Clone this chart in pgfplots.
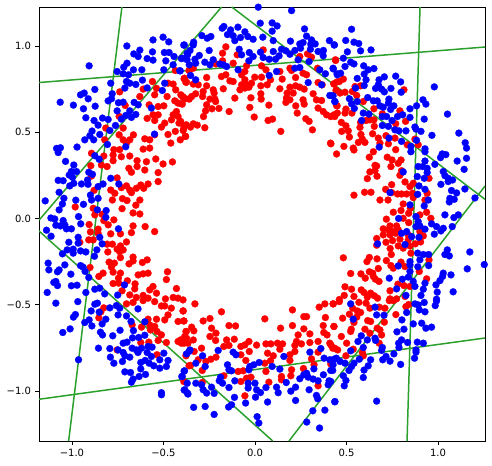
\documentclass[border=0pt]{standalone}
\usepackage{fontspec}
\setmainfont{DejaVu Sans}
\usepackage{pgfplots}
\pgfplotsset{compat=1.18}
\definecolor{lgreen}{RGB}{44,160,44}
\begin{document}
\begin{tikzpicture}
\path[use as bounding box] (-39bp,-25bp) rectangle (453bp,441bp);
\begin{axis}[
  at={(0,0)},anchor=south west,
  scale only axis,width=446bp,height=434bp,
  xmin=-1.18,xmax=1.257,ymin=-1.29,ymax=1.226,
  xtick={-1,-0.5,0,0.5,1},xticklabels={−1.0,−0.5,0.0,0.5,1.0},
  ytick={-1,-0.5,0,0.5,1},yticklabels={−1.0,−0.5,0.0,0.5,1.0},
  tick align=outside,xtick pos=bottom,ytick pos=left,
  tick style={black,line width=0.8bp},
  major tick length=3.5bp,
  axis line style={line width=0.8bp},
  tick label style={font=\fontsize{10bp}{12bp}\selectfont},
  xticklabel style={yshift=-1bp},
  yticklabel style={xshift=-1bp},
  clip=true,
]
% red class
\addplot[red,only marks,mark=*,mark size=3.5bp,mark options={solid,draw=red,fill=red,line width=0.2bp}] coordinates {
(-0.739,0.734)(-0.560,0.794)(-0.611,0.750)(-0.538,0.754)(-0.629,0.707)(-0.548,0.717)(-0.480,0.707)(-0.475,0.784)(-0.447,0.779)(-0.387,0.810)(-0.378,0.790)(-0.433,0.746)(-0.578,0.659)(-0.529,0.649)(-0.498,0.653)(-0.709,0.655)(-0.742,0.592)(-0.420,0.669)(-0.438,0.682)(-0.396,0.707)(-0.378,0.694)(-0.402,0.665)(-0.429,0.620)(-0.447,0.601)(-0.420,0.591)(-0.456,0.572)(-0.589,0.580)(-0.557,0.601)(-0.529,0.601)(-0.548,0.568)(-0.493,0.553)(-0.511,0.530)(-0.415,0.553)(-0.389,0.524)(-0.375,0.543)(-0.475,0.487)(-0.435,0.505)(-0.380,0.476)(-0.460,0.437)(-0.815,0.524)(-0.720,0.524)(-0.742,0.485)(-0.821,0.456)(-0.664,0.485)(-0.684,0.456)(-0.720,0.456)(-0.602,0.462)(-0.575,0.456)(-0.548,0.485)(-0.702,0.437)(-0.575,0.408)(-0.611,0.402)(-0.771,0.399)(-0.739,0.399)(-0.435,0.858)(-0.360,0.858)
(-0.159,0.995)(-0.177,0.958)(-0.097,0.949)(0.045,0.977)(-0.177,0.914)(-0.213,0.896)(-0.119,0.900)(-0.046,0.885)(-0.055,0.852)(-0.073,0.833)(0.036,0.885)(0.060,0.862)(0.136,0.852)(0.191,0.871)(0.200,0.858)(0.245,0.939)(0.287,0.954)(0.309,0.935)(0.440,0.920)(0.342,0.871)(0.263,0.842)(0.282,0.833)(0.222,0.817)(0.149,0.808)(0.085,0.804)(0.036,0.819)(-0.001,0.819)(-0.159,0.833)(-0.183,0.823)(-0.264,0.817)(-0.337,0.871)(-0.359,0.858)(-0.385,0.813)(-0.374,0.790)(-0.337,0.779)(-0.310,0.775)(-0.264,0.769)(-0.137,0.798)(-0.119,0.794)(-0.055,0.804)(-0.073,0.775)(-0.046,0.775)(-0.019,0.784)(-0.082,0.746)(-0.055,0.756)(-0.033,0.761)(0.032,0.769)(0.067,0.775)(0.136,0.752)(0.191,0.761)(0.222,0.769)(0.245,0.761)(0.269,0.750)(0.176,0.727)(0.209,0.727)(0.318,0.723)(0.345,0.788)(0.367,0.775)(0.431,0.781)(0.449,0.792)(0.445,0.742)(-0.173,0.752)(-0.228,0.746)(-0.223,0.727)(-0.283,0.736)(-0.286,0.707)(-0.324,0.723)(-0.346,0.707)(-0.359,0.692)(-0.392,0.703)(-0.405,0.717)(-0.397,0.663)(-0.246,0.692)(-0.219,0.692)(-0.215,0.678)(-0.110,0.698)(-0.022,0.700)(0.032,0.723)(0.034,0.692)(0.172,0.698)(0.169,0.673)(0.191,0.688)(0.263,0.688)(0.269,0.663)(0.336,0.688)(0.364,0.684)(0.223,0.653)(0.076,0.657)(-0.028,0.644)(-0.141,0.620)(-0.197,0.638)(-0.235,0.636)(-0.264,0.659)(-0.270,0.624)(-0.281,0.591)(0.231,0.611)(0.345,0.640)(0.373,0.620)(0.391,0.601)(0.436,0.591)(0.449,0.653)(-0.004,0.588)(0.072,0.568)(0.096,0.576)(0.278,0.578)(0.296,0.563)(0.314,0.514)(0.141,0.505)(0.413,0.437)(-0.274,0.526)(-0.315,0.541)(-0.337,0.549)(-0.352,0.530)(-0.388,0.537)(-0.406,0.563)(-0.392,0.510)(-0.379,0.476)(-0.408,0.456)
(0.441,0.916)(0.483,0.808)(0.461,0.794)(0.432,0.779)(0.577,0.769)(0.547,0.765)(0.532,0.736)(0.492,0.732)(0.443,0.742)(0.465,0.727)(0.556,0.713)(0.814,0.746)(0.592,0.678)(0.446,0.655)(0.650,0.636)(0.497,0.634)(0.492,0.611)(0.530,0.611)(0.450,0.611)(0.432,0.601)(0.414,0.591)(0.792,0.624)(0.696,0.607)(0.823,0.563)(0.769,0.549)(0.650,0.572)(0.628,0.572)(0.607,0.568)(0.577,0.557)(0.574,0.528)(0.652,0.534)(0.472,0.557)(0.497,0.537)(0.474,0.505)(0.510,0.508)(0.579,0.487)(0.643,0.491)(0.516,0.472)(0.587,0.460)(0.674,0.466)(0.716,0.480)(0.565,0.441)(0.601,0.441)(0.683,0.437)(0.729,0.433)(0.765,0.466)(0.415,0.433)(0.486,0.418)(0.537,0.408)(0.832,0.427)(0.874,0.460)(0.892,0.427)(0.769,0.399)
(-0.893,0.378)(-0.826,0.362)(-0.775,0.368)(-0.730,0.358)(-0.684,0.362)(-0.644,0.335)(-0.593,0.329)(-0.542,0.345)(-0.502,0.316)(-0.451,0.328)(-0.897,0.306)(-0.839,0.310)(-0.808,0.301)(-0.775,0.335)(-0.689,0.291)(-0.675,0.268)(-0.644,0.301)(-0.602,0.281)(-0.529,0.266)(-0.529,0.214)(-0.893,0.246)(-0.753,0.235)(-0.879,0.163)(-0.788,0.165)(-0.766,0.146)(-0.779,0.107)(-0.702,0.189)(-0.684,0.165)(-0.675,0.150)(-0.730,0.179)(-0.648,0.175)(-0.624,0.194)(-0.608,0.175)(-0.584,0.200)(-0.724,0.115)(-0.699,0.104)(-0.629,0.107)(-0.651,0.077)(-0.982,0.067)(-0.884,0.059)(-0.726,0.057)(-0.666,0.032)(-0.629,0.026)(-0.875,0.021)(-0.835,0.024)(-0.826,-0.012)(-0.771,-0.008)(-0.802,-0.037)(-0.906,-0.035)(-0.857,-0.062)(-0.899,-0.078)(-0.857,-0.086)(-0.788,-0.089)(-0.735,-0.089)(-0.666,-0.043)(-0.675,-0.082)(-0.600,-0.047)(-0.548,-0.076)(-0.908,-0.124)(-0.884,-0.124)(-0.957,-0.138)(-0.808,-0.149)(-0.779,-0.149)(-0.702,-0.136)(-0.735,-0.159)(-0.753,-0.178)(-0.720,-0.182)(-0.739,-0.192)(-0.804,-0.194)(-0.735,-0.227)(-0.797,-0.253)(-0.768,-0.259)(-0.784,-0.282)(-0.775,-0.311)(-0.901,-0.284)(-0.666,-0.224)(-0.666,-0.246)(-0.688,-0.263)(-0.615,-0.255)(-0.589,-0.240)(-0.830,-0.317)(-0.853,-0.336)(-0.735,-0.317)(-0.746,-0.346)(-0.638,-0.327)(-0.611,-0.321)(-0.584,-0.317)(-0.478,-0.309)(-0.484,-0.354)(-0.697,-0.361)(-0.775,-0.377)(-0.744,-0.375)(-0.655,-0.379)(-0.657,-0.408)(-0.557,-0.394)(-0.575,-0.414)(-0.429,-0.406)(-0.726,-0.419)(-0.538,-0.433)(-0.684,-0.443)(-0.611,-0.446)(-0.648,-0.458)(-0.584,-0.462)(-0.489,-0.466)(-0.447,-0.458)(-0.420,-0.462)(-0.393,-0.472)
(0.446,0.374)(0.541,0.397)(0.647,0.387)(0.625,0.355)(0.723,0.355)(0.749,0.339)(0.783,0.320)(0.798,0.339)(0.656,0.308)(0.665,0.304)(0.743,0.301)(0.801,0.277)(0.628,0.270)(0.656,0.277)(0.667,0.245)(0.614,0.231)(0.792,0.250)(0.820,0.212)(0.747,0.196)(0.847,0.185)(0.865,0.204)(0.951,0.233)(0.714,0.169)(0.599,0.152)(0.634,0.152)(0.541,0.135)(0.747,0.150)(0.779,0.142)(0.801,0.142)(0.829,0.142)(0.861,0.146)(0.865,0.121)(0.941,0.146)(0.929,0.107)(0.683,0.107)(0.727,0.107)(0.810,0.084)(0.849,0.059)(0.756,0.036)(0.798,0.046)(0.840,0.030)(0.938,0.036)(0.901,0.021)(0.961,0.001)(0.718,-0.004)(0.810,0.001)(0.840,-0.024)(0.738,-0.043)(0.774,-0.043)(0.701,-0.060)(0.729,-0.066)(0.756,-0.076)(0.783,-0.066)(0.701,-0.095)(0.738,-0.095)(0.769,-0.086)(0.792,-0.120)(0.901,-0.076)(0.920,-0.101)(0.838,-0.095)(0.665,-0.116)(0.716,-0.138)(0.752,-0.128)(0.665,-0.155)(0.838,-0.124)(0.905,-0.136)(0.847,-0.159)(0.876,-0.147)(0.783,-0.159)(0.810,-0.172)(0.739,-0.174)(0.745,-0.209)(0.852,-0.201)(0.951,-0.240)(0.625,-0.226)(0.612,-0.250)(0.667,-0.234)(0.483,-0.228)(0.718,-0.244)(0.798,-0.253)(0.674,-0.290)(0.743,-0.273)(0.756,-0.288)(0.820,-0.279)(0.523,-0.319)(0.579,-0.321)(0.625,-0.309)(0.643,-0.317)(0.647,-0.336)(0.603,-0.346)(0.658,-0.352)(0.678,-0.365)(0.938,-0.350)(0.898,-0.307)(0.781,-0.381)(0.814,-0.389)(0.492,-0.396)(0.528,-0.410)(0.581,-0.414)(0.596,-0.429)(0.632,-0.433)(0.652,-0.448)(0.670,-0.462)(0.738,-0.419)(0.488,-0.446)(0.541,-0.452)(0.614,-0.456)(0.461,-0.470)(0.738,-0.466)(0.774,-0.466)(0.820,-0.452)(0.847,-0.394)
(-0.702,-0.495)(-0.666,-0.487)(-0.611,-0.476)(-0.548,-0.482)(-0.511,-0.507)(-0.493,-0.507)(-0.457,-0.520)(-0.393,-0.536)(-0.826,-0.518)(-0.842,-0.541)(-0.853,-0.576)(-0.475,-0.559)(-0.538,-0.584)(-0.584,-0.584)(-0.493,-0.588)(-0.420,-0.597)(-0.389,-0.594)(-0.671,-0.617)(-0.620,-0.630)(-0.575,-0.617)(-0.548,-0.626)(-0.535,-0.655)(-0.571,-0.646)(-0.511,-0.675)(-0.375,-0.655)(-0.384,-0.684)(-0.529,-0.707)(-0.484,-0.719)(-0.420,-0.713)(-0.402,-0.723)(-0.366,-0.723)(-0.624,-0.719)(-0.580,-0.717)(-0.753,-0.762)(-0.535,-0.790)(-0.375,-0.790)(-0.389,-0.945)(-0.360,-0.854)
(-0.328,-0.495)(-0.392,-0.536)(-0.183,-0.541)(0.205,-0.530)(0.351,-0.514)(0.382,-0.495)(0.427,-0.495)(0.054,-0.582)(0.267,-0.569)(0.282,-0.569)(0.385,-0.574)(-0.246,-0.580)(-0.283,-0.594)(-0.388,-0.594)(-0.142,-0.621)(-0.106,-0.623)(0.205,-0.621)(0.373,-0.621)(0.431,-0.626)(0.140,-0.636)(0.267,-0.640)(-0.237,-0.636)(-0.346,-0.630)(-0.334,-0.651)(-0.377,-0.655)(-0.213,-0.665)(-0.246,-0.684)(0.376,-0.661)(0.394,-0.675)(0.300,-0.669)(0.236,-0.675)(-0.374,-0.694)(-0.337,-0.704)(-0.388,-0.723)(-0.406,-0.704)(-0.215,-0.707)(-0.155,-0.704)(-0.113,-0.700)(-0.170,-0.742)(-0.142,-0.736)(-0.033,-0.713)(-0.055,-0.733)(-0.077,-0.742)(0.009,-0.734)(0.060,-0.727)(0.087,-0.727)(0.123,-0.723)(0.151,-0.727)(0.227,-0.713)(0.218,-0.736)(0.254,-0.727)(0.300,-0.719)(0.345,-0.713)(0.409,-0.723)(0.436,-0.752)(0.345,-0.775)(0.136,-0.758)(0.218,-0.771)(0.191,-0.790)(0.069,-0.781)(0.100,-0.796)(-0.031,-0.771)(-0.077,-0.790)(-0.292,-0.752)(-0.332,-0.771)(-0.377,-0.796)(-0.241,-0.816)(-0.213,-0.804)(-0.268,-0.829)(-0.310,-0.819)(-0.352,-0.852)(-0.050,-0.823)(0.085,-0.825)(0.054,-0.839)(0.191,-0.823)(0.309,-0.814)(0.323,-0.848)(-0.288,-0.881)(-0.170,-0.912)(-0.092,-0.887)(-0.064,-0.883)(0.060,-0.887)(0.200,-0.877)(0.265,-0.870)(0.196,-0.912)(0.145,-0.916)(-0.022,-0.920)(-0.046,-0.926)(-0.077,-0.945)(0.145,-0.935)(0.076,-0.949)(-0.288,-0.951)(0.345,-0.970)(-0.055,-1.028)
(0.428,-0.495)(0.461,-0.482)(0.568,-0.486)(0.607,-0.491)(0.628,-0.520)(0.679,-0.514)(0.710,-0.520)(0.734,-0.476)(0.756,-0.476)(0.825,-0.511)(0.840,-0.499)(0.516,-0.555)(0.479,-0.578)(0.534,-0.520)(0.559,-0.536)(0.577,-0.545)(0.556,-0.572)(0.541,-0.603)(0.770,-0.557)(0.616,-0.592)(0.632,-0.597)(0.707,-0.601)(0.432,-0.626)(0.526,-0.642)(0.523,-0.655)(0.601,-0.642)(0.683,-0.646)(0.668,-0.636)(0.628,-0.665)(0.692,-0.675)(0.472,-0.684)(0.501,-0.723)(0.679,-0.723)(0.415,-0.733)(0.425,-0.752)(0.452,-0.762)(0.537,-0.758)(0.587,-0.777)(0.592,-0.796)(0.497,-0.796)(0.414,-0.843)
};
% blue class
\addplot[blue,only marks,mark=*,mark size=3.5bp,mark options={solid,draw=blue,fill=blue,line width=0.2bp}] coordinates {
(-0.70,1.00)(-0.557,1.035)(-0.502,1.051)(-0.471,1.024)(-0.389,1.005)(-0.629,0.976)(-0.662,0.954)(-0.638,0.939)(-0.560,0.966)(-0.589,0.927)(-0.557,0.918)(-0.495,0.962)(-0.469,0.962)(-0.487,0.914)(-0.442,0.939)(-0.402,0.927)(-0.371,0.958)(-0.371,0.920)(-0.447,0.891)(-0.906,0.885)(-0.699,0.900)(-0.717,0.877)(-0.664,0.862)(-0.618,0.862)(-0.753,0.852)(-0.720,0.839)(-0.691,0.833)(-0.498,0.862)(-0.411,0.856)(-0.788,0.784)(-0.702,0.794)(-0.615,0.802)(-0.651,0.777)(-0.711,0.756)(-0.684,0.784)(-0.589,0.757)(-0.493,0.784)(-0.506,0.742)(-0.875,0.748)(-0.933,0.727)(-0.953,0.717)(-0.911,0.694)(-0.780,0.723)(-0.784,0.694)(-0.802,0.682)(-1.064,0.674)(-0.992,0.657)(-0.937,0.636)(-0.873,0.651)(-0.746,0.671)(-0.720,0.674)(-0.660,0.673)(-0.638,0.659)(-0.753,0.624)(-0.566,0.640)(-0.924,0.584)(-0.833,0.582)(-0.802,0.574)(-0.879,0.568)(-0.857,0.541)(-0.762,0.539)(-0.684,0.624)(-0.651,0.603)(-0.706,0.597)(-0.675,0.586)(-0.730,0.576)(-0.890,0.507)(-0.902,0.480)(-0.930,0.456)(-0.881,0.456)(-0.848,0.487)(-0.793,0.510)(-0.549,0.489)(-0.806,0.429)(-0.972,0.414)(-1.084,0.406)(-1.063,0.410)(-0.706,0.416)
(0.018,1.225)(0.200,1.205)(-0.170,1.113)(-0.179,1.103)(-0.093,1.109)(0.029,1.132)(0.094,1.134)(0.121,1.116)(0.094,1.086)(-0.133,1.093)(-0.150,1.066)(-0.119,1.059)(-0.110,1.031)(-0.079,1.049)(-0.055,1.082)(-0.039,1.055)(-0.010,1.039)(0.043,1.051)(0.100,1.031)(-0.290,1.060)(-0.261,1.045)(-0.241,1.055)(-0.335,1.022)(-0.386,1.006)(-0.337,1.006)(0.271,1.099)(0.282,1.057)(0.194,1.028)(0.309,1.035)(0.407,1.031)(0.433,1.006)(0.329,1.012)(0.305,1.010)(0.263,1.020)(0.245,1.012)(0.249,0.987)(0.218,0.974)(0.145,0.981)(0.169,0.972)(0.303,0.981)(0.345,0.968)(0.374,0.974)(0.373,0.943)(0.191,0.952)(0.100,0.968)(0.030,0.964)(-0.031,0.962)(-0.086,0.981)(-0.073,0.949)(-0.250,0.974)(-0.355,0.974)(-0.304,0.945)(-0.368,0.949)(-0.397,0.929)(-0.328,0.923)(-0.324,0.900)(-0.359,0.891)(-0.274,0.906)(-0.246,0.891)(-0.228,0.920)(-0.192,0.896)(-0.173,0.891)(-0.155,0.881)(-0.092,0.862)(-0.010,0.939)(-0.033,0.914)(0.045,0.933)(0.078,0.923)(0.112,0.923)(0.132,0.943)(0.236,0.920)(0.296,0.910)(0.218,0.871)(0.245,0.875)(0.118,0.852)(0.078,0.829)(0.354,0.862)(0.385,0.839)(0.427,0.871)(0.449,0.839)(-0.408,0.856)(-0.352,0.829)(-0.324,0.804)(0.291,0.788)(0.364,0.775)(0.409,0.713)(0.436,0.678)(0.427,0.711)
(0.528,1.097)(0.496,1.032)(0.541,1.022)(0.567,1.014)(0.434,1.006)(0.505,0.966)(0.577,0.972)(0.634,0.977)(0.483,0.929)(0.523,0.906)(0.541,0.896)(0.492,0.881)(0.594,0.885)(0.650,0.869)(0.619,0.862)(0.428,0.867)(0.468,0.842)(0.450,0.833)(0.597,0.837)(0.707,0.821)(0.769,0.825)(0.796,0.792)(0.559,0.812)(0.607,0.804)(0.678,0.804)(0.597,0.771)(0.550,0.756)(0.659,0.754)(0.674,0.775)(0.692,0.750)(0.707,0.734)(0.743,0.754)(0.980,0.763)(0.799,0.732)(0.616,0.701)(0.516,0.694)(0.559,0.678)(0.423,0.711)(0.437,0.678)(0.528,0.665)(0.543,0.638)(0.647,0.682)(0.668,0.682)(0.732,0.692)(0.729,0.669)(0.683,0.653)(0.701,0.645)(0.759,0.653)(0.741,0.632)(0.847,0.636)(0.883,0.653)(0.918,0.688)(0.934,0.663)(0.592,0.611)(0.623,0.605)(0.696,0.591)(0.719,0.591)(0.779,0.591)(0.807,0.601)(0.847,0.586)(0.925,0.576)(1.052,0.605)(0.583,0.568)(0.749,0.568)(0.696,0.539)(0.729,0.534)(0.765,0.514)(0.787,0.508)(0.825,0.508)(0.874,0.530)(0.907,0.505)(0.880,0.518)(0.967,0.482)(1.114,0.495)(1.149,0.439)(1.156,0.408)(0.732,0.466)(0.801,0.447)(0.883,0.453)(0.929,0.404)(0.852,0.418)(0.679,0.414)
(-1.075,0.382)(-0.875,0.364)(-0.851,0.343)(-1.035,0.331)(-0.990,0.310)(-0.975,0.272)(-1.003,0.272)(-1.015,0.252)(-0.997,0.239)(-0.908,0.268)(-0.888,0.256)(-1.075,0.221)(-1.048,0.219)(-0.990,0.204)(-1.012,0.189)(-0.948,0.200)(-0.915,0.223)(-0.912,0.198)(-0.830,0.200)(-0.857,0.185)(-0.788,0.233)(-0.744,0.200)(-1.070,0.152)(-1.044,0.117)(-1.052,0.084)(-1.070,0.050)(-1.146,0.102)(-0.899,0.136)(-0.893,0.107)(-0.857,0.117)(-0.979,0.106)(-0.937,0.082)(-0.964,0.011)(-0.861,0.050)(-0.813,0.046)(-0.815,0.007)(-1.115,0.003)(-1.094,-0.003)(-1.181,-0.024)(-1.048,-0.012)(-1.088,-0.039)(-1.063,-0.043)(-1.039,-0.037)(-0.952,-0.031)(-1.030,-0.060)(-1.003,-0.060)(-1.139,-0.068)(-1.114,-0.103)(-0.966,-0.109)(-1.017,-0.138)(-0.966,-0.143)(-0.848,-0.109)(-0.835,-0.147)(-0.746,-0.060)(-0.864,-0.182)(-1.026,-0.182)(-1.052,-0.205)(-0.993,-0.178)(-0.993,-0.201)(-0.953,-0.188)(-0.924,-0.194)(-0.877,-0.219)(-1.130,-0.259)(-1.039,-0.269)(-0.953,-0.273)(-0.939,-0.282)(-1.126,-0.298)(-1.070,-0.298)(-1.079,-0.309)(-0.928,-0.307)(-1.006,-0.323)(-0.908,-0.342)(-1.088,-0.365)(-1.099,-0.371)(-1.079,-0.389)(-1.003,-0.390)(-0.972,-0.387)(-1.135,-0.429)(-0.924,-0.429)(-0.875,-0.410)(-0.848,-0.404)(-0.821,-0.437)(-0.750,-0.444)(-0.713,-0.385)
(0.852,0.387)(0.929,0.387)(1.023,0.374)(1.043,0.370)(1.014,0.353)(1.105,0.333)(1.156,0.349)(0.929,0.333)(0.983,0.314)(0.892,0.301)(0.916,0.301)(0.941,0.291)(0.810,0.270)(0.941,0.266)(1.143,0.285)(1.029,0.272)(1.038,0.248)(0.887,0.243)(0.925,0.233)(1.056,0.233)(1.080,0.223)(1.056,0.214)(1.016,0.198)(0.896,0.189)(0.929,0.169)(1.147,0.171)(1.074,0.162)(1.102,0.148)(0.738,0.150)(0.889,0.140)(1.065,0.117)(1.089,0.111)(1.062,0.096)(1.202,0.119)(0.947,0.107)(0.847,0.079)(0.925,0.073)(1.038,0.021)(1.111,0.021)(1.087,0.005)(0.880,0.011)(0.785,0.000)(0.892,-0.018)(0.965,-0.031)(0.880,-0.047)(0.901,-0.043)(0.992,-0.047)(1.029,-0.057)(1.078,-0.047)(1.016,-0.072)(0.929,-0.062)(0.980,-0.091)(0.801,-0.086)(0.829,-0.076)(0.856,-0.105)(0.896,-0.109)(0.670,-0.147)(0.820,-0.151)(0.889,-0.201)(0.920,-0.209)(0.949,-0.209)(1.051,-0.182)(1.038,-0.209)(1.062,-0.217)(1.174,-0.194)(0.901,-0.240)(0.847,-0.250)(0.949,-0.273)(0.890,-0.280)(0.847,-0.269)(0.783,-0.275)(1.160,-0.292)(1.253,-0.267)(0.847,-0.307)(1.029,-0.317)(1.071,-0.327)(1.025,-0.336)(0.734,-0.346)(0.805,-0.352)(0.838,-0.340)(0.865,-0.365)(0.929,-0.375)(1.011,-0.360)(0.989,-0.385)(0.774,-0.408)(0.874,-0.394)(0.920,-0.410)(0.996,-0.427)(1.083,-0.425)(0.907,-0.446)(0.825,-0.446)(0.992,-0.468)
(-1.088,-0.491)(-0.968,-0.482)(-0.875,-0.497)(-0.861,-0.491)(-0.793,-0.518)(-0.757,-0.505)(-0.739,-0.520)(-0.895,-0.536)(-0.981,-0.557)(-0.992,-0.572)(-0.851,-0.543)(-0.748,-0.559)(-0.702,-0.565)(-0.639,-0.524)(-0.906,-0.588)(-0.930,-0.603)(-0.815,-0.584)(-0.835,-0.611)(-0.677,-0.597)(-0.602,-0.599)(-0.891,-0.623)(-1.010,-0.640)(-1.050,-0.661)(-0.844,-0.659)(-0.833,-0.675)(-0.777,-0.680)(-0.737,-0.648)(-0.664,-0.650)(-0.602,-0.677)(-0.669,-0.692)(-0.635,-0.690)(-0.720,-0.723)(-0.699,-0.717)(-0.855,-0.752)(-0.793,-0.754)(-0.748,-0.762)(-0.671,-0.752)(-0.648,-0.762)(-0.639,-0.777)(-0.620,-0.752)(-0.584,-0.742)(-0.562,-0.746)(-0.589,-0.777)(-0.720,-0.777)(-0.711,-0.796)(-0.684,-0.804)(-0.790,-0.804)(-0.566,-0.800)(-0.498,-0.781)(-0.964,-0.819)(-0.724,-0.829)(-0.771,-0.839)(-0.624,-0.835)(-0.600,-0.823)(-0.578,-0.839)(-0.520,-0.819)(-0.475,-0.823)(-0.553,-0.854)(-0.520,-0.868)(-0.484,-0.858)(-0.624,-0.872)(-0.711,-0.889)(-0.680,-0.893)(-0.598,-0.904)(-0.633,-0.916)(-0.666,-0.931)(-0.675,-0.949)(-0.387,-0.885)(-0.400,-0.916)(-0.511,-1.010)(-0.511,-1.022)(-0.387,-0.995)(-0.369,-1.012)(-0.360,-0.771)
(-0.355,-0.762)(-0.374,-0.785)(-0.286,-0.796)(-0.201,-0.765)(-0.119,-0.775)(-0.104,-0.790)(-0.323,-0.839)(-0.272,-0.858)(-0.385,-0.883)(-0.397,-0.916)(-0.150,-0.848)(-0.142,-0.877)(-0.128,-0.883)(-0.028,-0.858)(-0.006,-0.848)(0.023,-0.835)(-0.033,-0.877)(0.094,-0.858)(0.136,-0.873)(0.158,-0.800)(0.300,-0.775)(0.360,-0.754)(0.378,-0.810)(0.409,-0.819)(0.445,-0.810)(0.427,-0.848)(0.414,-0.881)(0.322,-0.872)(0.282,-0.897)(0.267,-0.906)(0.245,-0.929)(0.291,-0.920)(0.318,-0.931)(0.345,-0.941)(0.374,-0.906)(0.405,-0.941)(0.400,-0.964)(-0.188,-0.920)(-0.195,-0.941)(-0.177,-0.955)(-0.110,-0.941)(-0.142,-0.980)(-0.323,-0.955)(-0.370,-0.955)(-0.292,-0.964)(-0.383,-0.993)(-0.366,-1.018)(-0.283,-0.993)(-0.264,-1.012)(-0.237,-0.978)(-0.223,-1.014)(-0.037,-0.955)(-0.037,-0.983)(0.000,-0.955)(0.009,-0.993)(0.030,-1.009)(0.003,-1.036)(0.060,-0.980)(0.118,-0.978)(0.127,-1.010)(0.171,-0.951)(0.222,-0.978)(0.196,-1.001)(0.296,-0.993)(0.336,-1.026)(0.343,-1.045)(0.222,-1.055)(0.436,-1.063)(0.069,-1.064)(-0.051,-1.070)(-0.112,-1.037)(-0.128,-1.080)(-0.144,-1.093)(-0.335,-1.095)(-0.272,-1.090)(-0.223,-1.136)(0.012,-1.149)(0.021,-1.186)(0.382,-1.111)(0.316,-1.115)(0.283,-1.180)(0.353,-1.215)(-0.030,-1.292)
(0.523,-0.495)(0.874,-0.495)(0.892,-0.501)(0.925,-0.487)(0.992,-0.478)(0.985,-0.505)(0.898,-0.530)(0.929,-0.541)(0.829,-0.545)(0.656,-0.514)(0.665,-0.559)(0.705,-0.561)(0.537,-0.584)(0.803,-0.588)(0.865,-0.611)(0.911,-0.607)(0.934,-0.636)(0.965,-0.630)(0.814,-0.642)(0.776,-0.657)(0.581,-0.680)(0.614,-0.704)(0.656,-0.694)(0.659,-0.707)(0.563,-0.713)(0.801,-0.704)(0.785,-0.723)(0.834,-0.719)(0.887,-0.717)(0.920,-0.723)(0.592,-0.748)(0.696,-0.748)(0.523,-0.767)(0.787,-0.748)(0.692,-0.765)(0.880,-0.762)(0.880,-0.775)(0.759,-0.785)(0.716,-0.800)(0.872,-0.810)(0.698,-0.819)(0.738,-0.827)(0.796,-0.846)(0.632,-0.819)(0.619,-0.854)(0.596,-0.879)(0.432,-0.816)(0.465,-0.829)(0.492,-0.839)(0.541,-0.839)(0.570,-0.816)(0.528,-0.858)(0.514,-0.881)(0.425,-0.881)(0.483,-0.912)(0.497,-0.939)(0.488,-0.970)(0.592,-0.922)(0.414,-0.945)(0.437,-1.061)(0.665,-1.059)
};
% separating lines
\addplot[lgreen,line width=1.5bp] coordinates {(-1.18,0.788)(1.257,0.994)};
\addplot[lgreen,line width=1.5bp] coordinates {(-0.727,1.226)(-1.018,-1.29)};
\addplot[lgreen,line width=1.5bp] coordinates {(-0.182,1.226)(-1.18,-0.01)};
\addplot[lgreen,line width=1.5bp] coordinates {(-0.127,1.226)(1.257,0.111)};
\addplot[lgreen,line width=1.5bp] coordinates {(0.902,1.226)(0.831,-1.29)};
\addplot[lgreen,line width=1.5bp] coordinates {(0.186,-1.29)(1.257,0.188)};
\addplot[lgreen,line width=1.5bp] coordinates {(-1.18,-1.048)(1.257,-0.693)};
\addplot[lgreen,line width=1.5bp] coordinates {(-1.18,-0.0725)(0.097,-1.29)};
\end{axis}
\end{tikzpicture}
\end{document}
